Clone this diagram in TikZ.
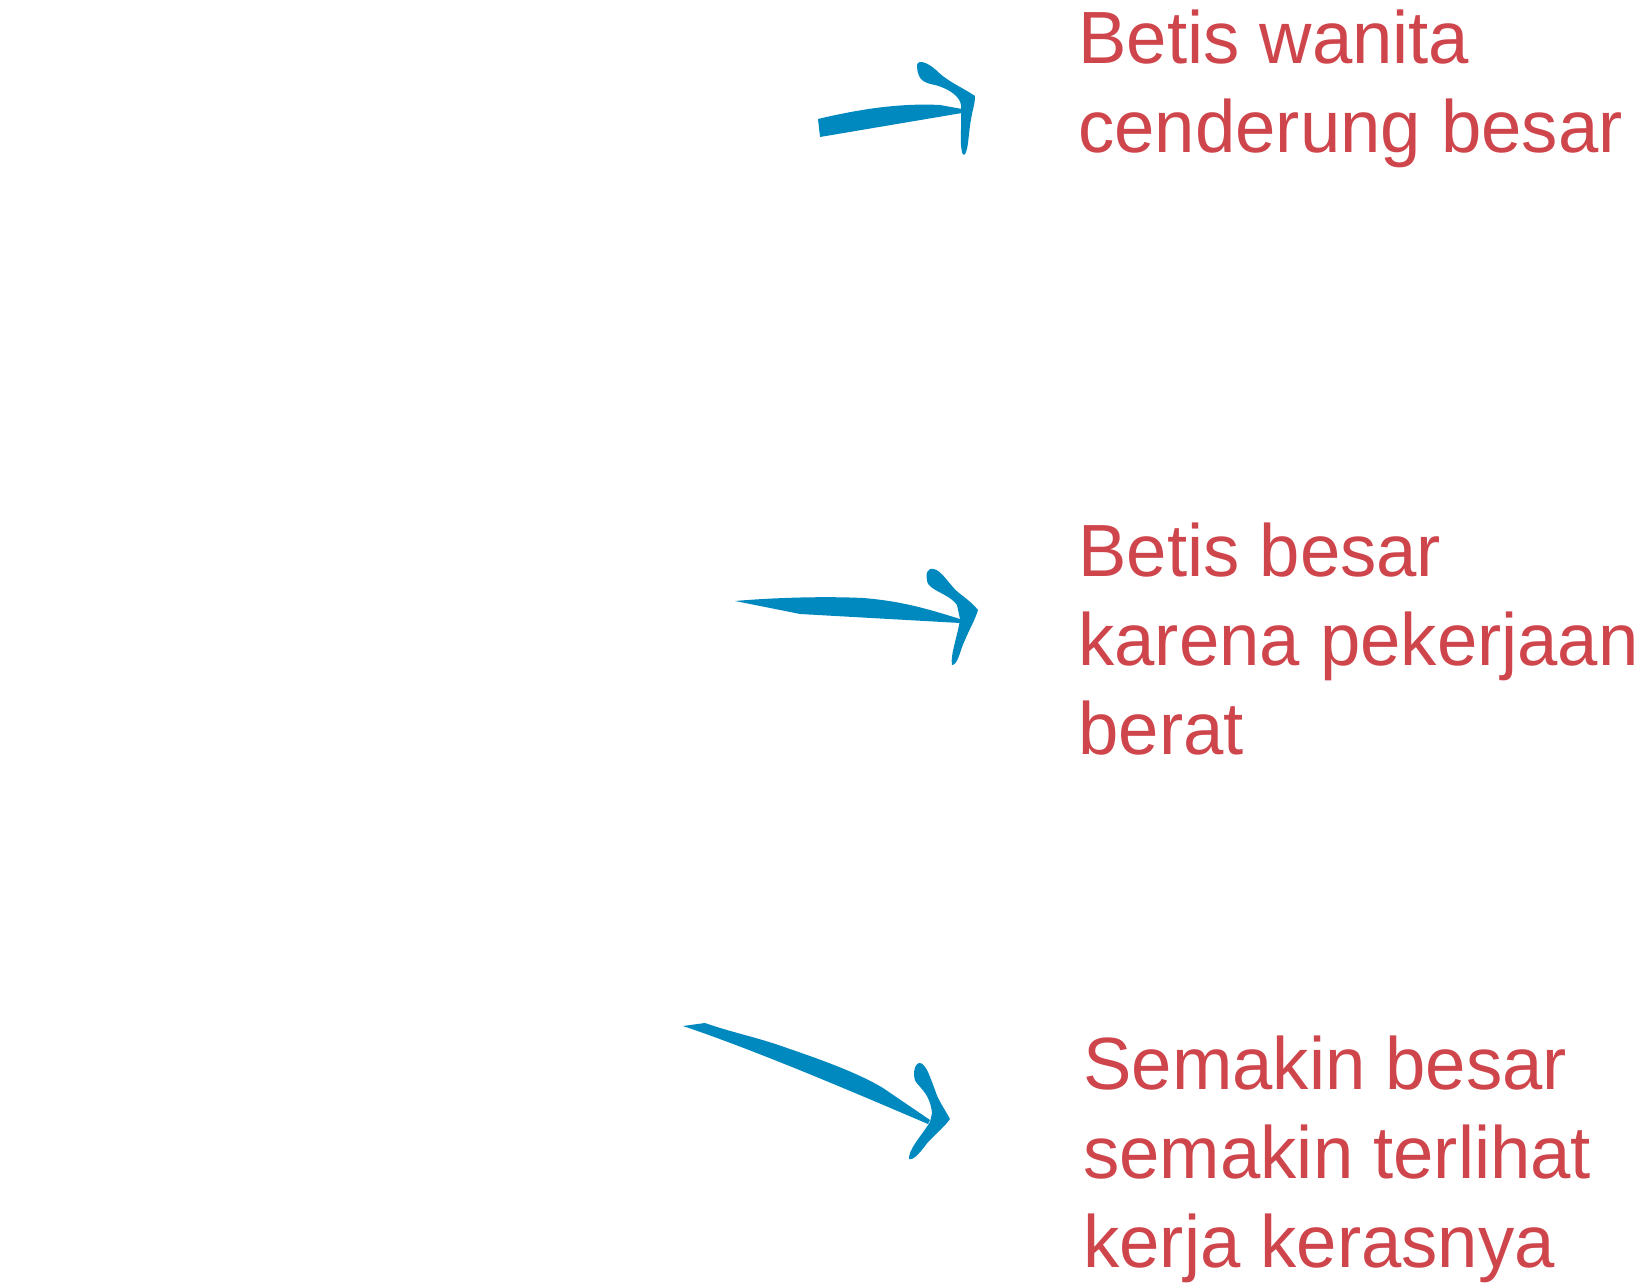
\documentclass[tikz,border=0pt]{standalone}
\usepackage{fontspec}
\setmainfont[FakeStretch=0.98]{Liberation Sans}
\definecolor{arrowblue}{HTML}{0089BF}
\definecolor{notered}{HTML}{CF454C}
\tikzset{
  note/.style={anchor=base west, inner sep=0pt, align=left, text=notered,
    font=\fontsize{37}{44.5}\selectfont},
  brush/.style={fill=arrowblue, draw=none}
}

\begin{document}
\begin{tikzpicture}[x=0.5pt,y=-0.5pt]
\useasboundingbox (0,0) rectangle (1640,1288);
% notes (placed at the baseline of their last line)
\node[note] (note1) at (1078,153) {Betis wanita\\cenderung besar};
\node[note] (note2) at (1078,755) {Betis besar\\karena pekerjaan\\berat};
\node[note] (note3) at (1083,1267) {Semakin besar\\semakin terlihat\\kerja kerasnya};
% ends of the arrows
\coordinate (tail1) at (818,119);
\coordinate (tip1) at (962,109);
\coordinate (tail2) at (735,601);
\coordinate (tip2) at (960,619);
\coordinate (tail3) at (683,1026);
\coordinate (tip3) at (930,1120);
% arrow 1
\fill[brush] (tail1) .. controls (860,109) and (900,103) .. (940,105) -- (tip1)
  -- (962,113) -- (820,137) -- cycle;
\fill[brush] (975,96) .. controls (960,86) and (948,82) .. (936,70)
  .. controls (926,61) and (916,59) .. (917,67)
  .. controls (918,81) and (925,83) .. (935,85)
  .. controls (950,89) and (960,97) .. (961,105) -- (961,130)
  .. controls (960,145) and (962,156) .. (964,155)
  .. controls (968,152) and (968,140) .. (970,126)
  .. controls (972,110) and (975,105) .. (975,96) -- cycle;
% arrow 2
\fill[brush] (tail2) .. controls (770,598) and (820,596) .. (863,598)
  .. controls (900,601) and (925,608) .. (tip2) -- (960,623) -- (800,614) -- cycle;
\fill[brush] (978,610) .. controls (968,598) and (958,594) .. (952,586)
  .. controls (945,578) and (938,567) .. (930,569)
  .. controls (925,571) and (926,582) .. (929,585)
  .. controls (935,592) and (950,595) .. (957,605) -- (960,619)
  .. controls (958,635) and (950,655) .. (952,665)
  .. controls (958,665) and (960,650) .. (965,640)
  .. controls (970,628) and (975,620) .. (978,610) -- cycle;
% arrow 3
\fill[brush] (tail3) -- (705,1023) .. controls (730,1032) and (760,1038) .. (787,1048)
  .. controls (825,1061) and (860,1074) .. (883,1088) -- (tip3) -- (928,1124)
  .. controls (860,1095) and (760,1052) .. (tail3) -- cycle;
\fill[brush] (950,1119) .. controls (944,1108) and (938,1100) .. (935,1090)
  .. controls (931,1080) and (926,1062) .. (919,1063)
  .. controls (913,1065) and (913,1078) .. (916,1082)
  .. controls (922,1090) and (930,1095) .. (932,1113) -- (930,1122)
  .. controls (922,1135) and (908,1150) .. (909,1159)
  .. controls (914,1161) and (922,1150) .. (928,1142)
  .. controls (938,1132) and (945,1126) .. (950,1119) -- cycle;
\end{tikzpicture}
\end{document}
